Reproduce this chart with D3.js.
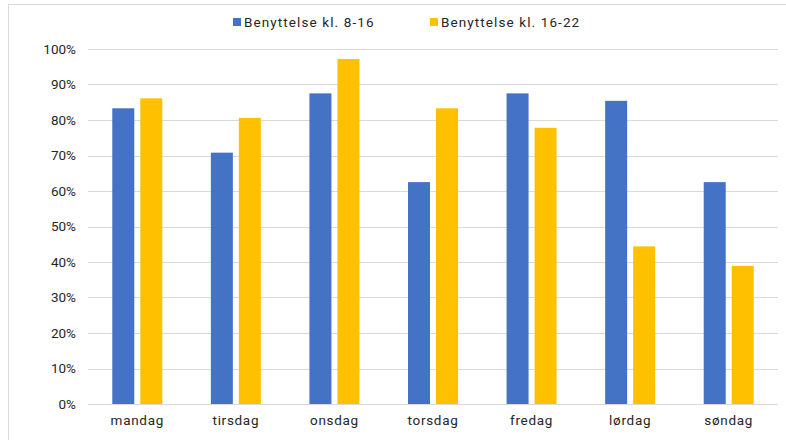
<!DOCTYPE html>
<html>
<head>
<meta charset="utf-8">
<script src="https://cdn.jsdelivr.net/npm/d3@7"></script>
<style>
  body { margin: 0; background: #fff; }
  text { font-family: Roboto, "Noto Sans", sans-serif; fill: #262626; }
</style>
</head>
<body>
<div id="viz"></div>
<script>
const days = ["mandag", "tirsdag", "onsdag", "torsdag", "fredag", "lørdag", "søndag"];
const seriesNames = ["Benyttelse kl. 8-16", "Benyttelse kl. 16-22"];
const morning = [83.3, 70.8, 87.5, 62.5, 87.5, 85.4, 62.5];
const evening = [86.1, 80.6, 97.2, 83.3, 77.8, 44.4, 38.9];
const yTicks = [0, 10, 20, 30, 40, 50, 60, 70, 80, 90, 100];
const colors = ["#4472c4", "#ffc000"];

const W = 786, H = 440;
const margin = {top: 49, right: 8, bottom: 36, left: 88};
const width = W - margin.left - margin.right,
      height = H - margin.top - margin.bottom;

const svg = d3.select("#viz").append("svg")
  .attr("width", W).attr("height", H);

// chart border
svg.append("rect")
  .attr("x", 8.5).attr("y", 4.5)
  .attr("width", W + 10).attr("height", H + 10)
  .attr("fill", "none").attr("stroke", "#d9d9d9");

const g = svg.append("g")
  .attr("transform", "translate(" + margin.left + "," + margin.top + ")");

const x = d3.scaleBand().domain(days).range([0, width]);
const y = d3.scaleLinear().domain([0, 100]).range([height, 0]);

// gridlines
g.append("g")
  .selectAll("line")
  .data(yTicks)
  .join("line")
    .attr("x1", 0).attr("x2", width)
    .attr("y1", d => Math.round(y(d)) + 0.5)
    .attr("y2", d => Math.round(y(d)) + 0.5)
    .attr("stroke", "#d9d9d9").attr("stroke-width", 1.2);

// y axis labels
const yAxis = g.append("g")
  .call(d3.axisLeft(y).tickValues(yTicks).tickSize(0).tickPadding(12).tickFormat(d => d + "%"));
yAxis.select(".domain").remove();
yAxis.selectAll("text").style("font-size", "13.5px").attr("fill", "#262626");

// x axis labels
const xAxis = g.append("g")
  .attr("transform", "translate(0," + height + ")")
  .call(d3.axisBottom(x).tickSize(0).tickPadding(11));
xAxis.select(".domain").remove();
xAxis.selectAll("text").style("font-size", "13.5px").style("letter-spacing", "0.7px").attr("fill", "#262626");

// bars
const barW = 22, gap = 6;
const sub = d3.scaleOrdinal().domain([0, 1]).range([-(barW + gap / 2), gap / 2]);
[morning, evening].forEach((vals, i) => {
  g.append("g")
    .selectAll("rect")
    .data(vals)
    .join("rect")
      .attr("x", (d, j) => x(days[j]) + x.bandwidth() / 2 + sub(i))
      .attr("y", d => y(d))
      .attr("width", barW)
      .attr("height", d => height - y(d))
      .attr("fill", colors[i]);
});

// legend
const legend = svg.append("g").attr("transform", "translate(233,22)");
const legX = [0, 197];
seriesNames.forEach((name, i) => {
  const item = legend.append("g").attr("transform", "translate(" + legX[i] + ",0)");
  item.append("rect").attr("x", 0).attr("y", -4).attr("width", 8).attr("height", 8).attr("fill", colors[i]);
  item.append("text").attr("x", 11).attr("y", 0).attr("dy", "0.35em")
    .style("font-size", "13.5px").style("letter-spacing", "1.1px").text(name);
});
</script>
</body>
</html>
